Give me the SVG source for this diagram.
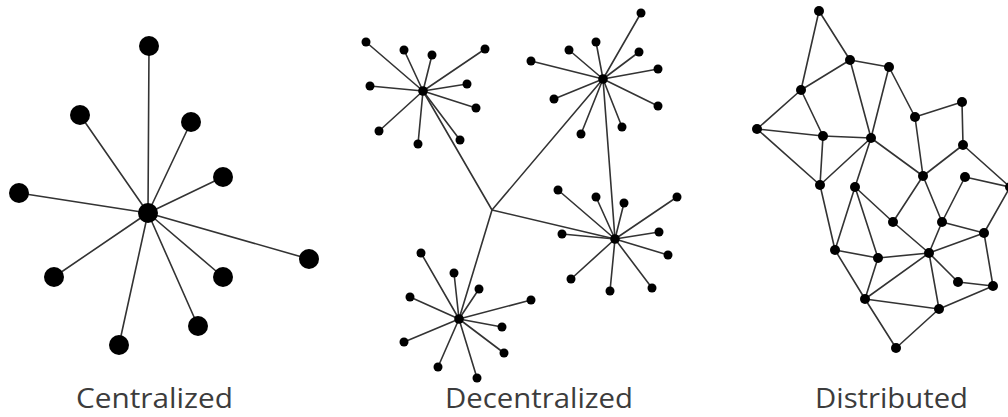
<svg xmlns="http://www.w3.org/2000/svg" width="1008" height="417" viewBox="0 0 1008 417">
<style>
.e{stroke:#333;stroke-width:1.6;fill:none;stroke-linecap:round}
.big{fill:#000}
.sm{fill:#000}
.lbl{font-family:"Open Sans","Liberation Sans",sans-serif;font-size:28px;fill:#3c3c3c;text-anchor:middle}
</style>
<rect width="1008" height="417" fill="#fff"/>
<g id="connectors">
  <!-- centralized -->
  <g class="e">
    <line x1="148" y1="213" x2="149" y2="46"/>
    <line x1="148" y1="213" x2="80" y2="115"/>
    <line x1="148" y1="213" x2="191" y2="122"/>
    <line x1="148" y1="213" x2="223" y2="177"/>
    <line x1="148" y1="213" x2="19" y2="193"/>
    <line x1="148" y1="213" x2="309" y2="259"/>
    <line x1="148" y1="213" x2="54" y2="277"/>
    <line x1="148" y1="213" x2="223" y2="277"/>
    <line x1="148" y1="213" x2="198" y2="326"/>
    <line x1="148" y1="213" x2="119" y2="345"/>
  </g>
  <!-- decentralized -->
  <g class="e">
    <line x1="492" y1="210" x2="423" y2="91"/>
    <line x1="492" y1="210" x2="603" y2="79"/>
    <line x1="492" y1="210" x2="615" y2="239"/>
    <line x1="492" y1="210" x2="459" y2="319"/>
    <line x1="603" y1="79" x2="615" y2="239"/>
    <line x1="423" y1="91" x2="366" y2="42"/>
    <line x1="423" y1="91" x2="404" y2="50"/>
    <line x1="423" y1="91" x2="432" y2="55"/>
    <line x1="423" y1="91" x2="485" y2="49"/>
    <line x1="423" y1="91" x2="370" y2="86"/>
    <line x1="423" y1="91" x2="467" y2="84"/>
    <line x1="423" y1="91" x2="476" y2="108"/>
    <line x1="423" y1="91" x2="379" y2="131"/>
    <line x1="423" y1="91" x2="418" y2="144"/>
    <line x1="423" y1="91" x2="460" y2="140"/>
    <line x1="603" y1="79" x2="641" y2="13"/>
    <line x1="603" y1="79" x2="596" y2="42"/>
    <line x1="603" y1="79" x2="569" y2="50"/>
    <line x1="603" y1="79" x2="639" y2="52"/>
    <line x1="603" y1="79" x2="531" y2="61"/>
    <line x1="603" y1="79" x2="658" y2="69"/>
    <line x1="603" y1="79" x2="554" y2="99"/>
    <line x1="603" y1="79" x2="658" y2="106"/>
    <line x1="603" y1="79" x2="581" y2="134"/>
    <line x1="603" y1="79" x2="622" y2="127"/>
    <line x1="615" y1="239" x2="558" y2="190"/>
    <line x1="615" y1="239" x2="596" y2="197"/>
    <line x1="615" y1="239" x2="624" y2="203"/>
    <line x1="615" y1="239" x2="677" y2="197"/>
    <line x1="615" y1="239" x2="562" y2="234"/>
    <line x1="615" y1="239" x2="659" y2="232"/>
    <line x1="615" y1="239" x2="668" y2="255"/>
    <line x1="615" y1="239" x2="571" y2="279"/>
    <line x1="615" y1="239" x2="610" y2="291"/>
    <line x1="615" y1="239" x2="652" y2="288"/>
    <line x1="459" y1="319" x2="421" y2="253"/>
    <line x1="459" y1="319" x2="454" y2="273"/>
    <line x1="459" y1="319" x2="479" y2="289"/>
    <line x1="459" y1="319" x2="410" y2="297"/>
    <line x1="459" y1="319" x2="531" y2="300"/>
    <line x1="459" y1="319" x2="502" y2="327"/>
    <line x1="459" y1="319" x2="404" y2="342"/>
    <line x1="459" y1="319" x2="504" y2="353"/>
    <line x1="459" y1="319" x2="438" y2="367"/>
    <line x1="459" y1="319" x2="477" y2="378"/>
  </g>
  <!-- distributed -->
  <g class="e">
    <line x1="819" y1="11" x2="850" y2="60"/>
    <line x1="819" y1="11" x2="801" y2="90"/>
    <line x1="850" y1="60" x2="801" y2="90"/>
    <line x1="850" y1="60" x2="889" y2="67"/>
    <line x1="850" y1="60" x2="871" y2="138"/>
    <line x1="889" y1="67" x2="871" y2="138"/>
    <line x1="889" y1="67" x2="915" y2="117"/>
    <line x1="915" y1="117" x2="962" y2="102"/>
    <line x1="962" y1="102" x2="963" y2="145"/>
    <line x1="915" y1="117" x2="923" y2="176"/>
    <line x1="963" y1="145" x2="923" y2="176"/>
    <line x1="963" y1="145" x2="1010" y2="187"/>
    <line x1="801" y1="90" x2="757" y2="129"/>
    <line x1="801" y1="90" x2="823" y2="136"/>
    <line x1="757" y1="129" x2="823" y2="136"/>
    <line x1="823" y1="136" x2="871" y2="138"/>
    <line x1="757" y1="129" x2="820" y2="185"/>
    <line x1="823" y1="136" x2="820" y2="185"/>
    <line x1="871" y1="138" x2="820" y2="185"/>
    <line x1="871" y1="138" x2="855" y2="187"/>
    <line x1="871" y1="138" x2="923" y2="176"/>
    <line x1="820" y1="185" x2="835" y2="250"/>
    <line x1="855" y1="187" x2="835" y2="250"/>
    <line x1="855" y1="187" x2="878" y2="258"/>
    <line x1="855" y1="187" x2="893" y2="222"/>
    <line x1="893" y1="222" x2="923" y2="176"/>
    <line x1="923" y1="176" x2="942" y2="222"/>
    <line x1="942" y1="222" x2="965" y2="177"/>
    <line x1="942" y1="222" x2="984" y2="233"/>
    <line x1="984" y1="233" x2="1010" y2="187"/>
    <line x1="965" y1="177" x2="1010" y2="187"/>
    <line x1="893" y1="222" x2="929" y2="253"/>
    <line x1="942" y1="222" x2="929" y2="253"/>
    <line x1="929" y1="253" x2="984" y2="233"/>
    <line x1="929" y1="253" x2="878" y2="258"/>
    <line x1="929" y1="253" x2="958" y2="282"/>
    <line x1="958" y1="282" x2="993" y2="286"/>
    <line x1="993" y1="286" x2="984" y2="233"/>
    <line x1="835" y1="250" x2="878" y2="258"/>
    <line x1="835" y1="250" x2="865" y2="299"/>
    <line x1="878" y1="258" x2="865" y2="299"/>
    <line x1="865" y1="299" x2="929" y2="253"/>
    <line x1="865" y1="299" x2="939" y2="309"/>
    <line x1="929" y1="253" x2="939" y2="309"/>
    <line x1="939" y1="309" x2="993" y2="286"/>
    <line x1="865" y1="299" x2="896" y2="348"/>
    <line x1="939" y1="309" x2="896" y2="348"/>
  </g>
</g>
<g id="centralized" class="big">
  <circle id="c-hub" cx="148" cy="213" r="10"/>
  <circle cx="149" cy="46" r="10"/>
  <circle cx="80" cy="115" r="10"/>
  <circle cx="191" cy="122" r="10"/>
  <circle cx="223" cy="177" r="10"/>
  <circle cx="19" cy="193" r="10"/>
  <circle cx="309" cy="259" r="10"/>
  <circle cx="54" cy="277" r="10"/>
  <circle cx="223" cy="277" r="10"/>
  <circle cx="198" cy="326" r="10"/>
  <circle cx="119" cy="345" r="10"/>
</g>
<g id="decentralized" class="sm">
  <g id="d-hub1">
    <circle cx="423" cy="91" r="4.8"/>
    <circle cx="366" cy="42" r="4.5"/><circle cx="404" cy="50" r="4.5"/><circle cx="432" cy="55" r="4.5"/><circle cx="485" cy="49" r="4.5"/><circle cx="370" cy="86" r="4.5"/><circle cx="467" cy="84" r="4.5"/><circle cx="476" cy="108" r="4.5"/><circle cx="379" cy="131" r="4.5"/><circle cx="418" cy="144" r="4.5"/><circle cx="460" cy="140" r="4.5"/>
  </g>
  <g id="d-hub2">
    <circle cx="603" cy="79" r="4.8"/>
    <circle cx="641" cy="13" r="4.5"/><circle cx="596" cy="42" r="4.5"/><circle cx="569" cy="50" r="4.5"/><circle cx="639" cy="52" r="4.5"/><circle cx="531" cy="61" r="4.5"/><circle cx="658" cy="69" r="4.5"/><circle cx="554" cy="99" r="4.5"/><circle cx="658" cy="106" r="4.5"/><circle cx="581" cy="134" r="4.5"/><circle cx="622" cy="127" r="4.5"/>
  </g>
  <g id="d-hub3">
    <circle cx="615" cy="239" r="4.8"/>
    <circle cx="558" cy="190" r="4.5"/><circle cx="596" cy="197" r="4.5"/><circle cx="624" cy="203" r="4.5"/><circle cx="677" cy="197" r="4.5"/><circle cx="562" cy="234" r="4.5"/><circle cx="659" cy="232" r="4.5"/><circle cx="668" cy="255" r="4.5"/><circle cx="571" cy="279" r="4.5"/><circle cx="610" cy="291" r="4.5"/><circle cx="652" cy="288" r="4.5"/>
  </g>
  <g id="d-hub4">
    <circle cx="459" cy="319" r="4.8"/>
    <circle cx="421" cy="253" r="4.5"/><circle cx="454" cy="273" r="4.5"/><circle cx="479" cy="289" r="4.5"/><circle cx="410" cy="297" r="4.5"/><circle cx="531" cy="300" r="4.5"/><circle cx="502" cy="327" r="4.5"/><circle cx="404" cy="342" r="4.5"/><circle cx="504" cy="353" r="4.5"/><circle cx="438" cy="367" r="4.5"/><circle cx="477" cy="378" r="4.5"/>
  </g>
</g>
<g id="distributed" class="sm">
  <circle cx="819" cy="11" r="5"/><circle cx="850" cy="60" r="5"/><circle cx="889" cy="67" r="5"/><circle cx="801" cy="90" r="5"/><circle cx="757" cy="129" r="5"/><circle cx="823" cy="136" r="5"/><circle cx="871" cy="138" r="5"/><circle cx="915" cy="117" r="5"/><circle cx="962" cy="102" r="5"/><circle cx="963" cy="145" r="5"/><circle cx="923" cy="176" r="5"/><circle cx="965" cy="177" r="5"/><circle cx="1010" cy="187" r="5"/><circle cx="820" cy="185" r="5"/><circle cx="855" cy="187" r="5"/><circle cx="893" cy="222" r="5"/><circle cx="942" cy="222" r="5"/><circle cx="984" cy="233" r="5"/><circle cx="835" cy="250" r="5"/><circle cx="878" cy="258" r="5"/><circle cx="929" cy="253" r="5"/><circle cx="958" cy="282" r="5"/><circle cx="993" cy="286" r="5"/><circle cx="865" cy="299" r="5"/><circle cx="939" cy="309" r="5"/><circle cx="896" cy="348" r="5"/>
</g>
<g id="labels">
  <text class="lbl" x="154.5" y="408" textLength="157" lengthAdjust="spacingAndGlyphs">Centralized</text>
  <text class="lbl" x="539" y="408" textLength="188" lengthAdjust="spacingAndGlyphs">Decentralized</text>
  <text class="lbl" x="891.5" y="408" textLength="153" lengthAdjust="spacingAndGlyphs">Distributed</text>
</g>
</svg>
